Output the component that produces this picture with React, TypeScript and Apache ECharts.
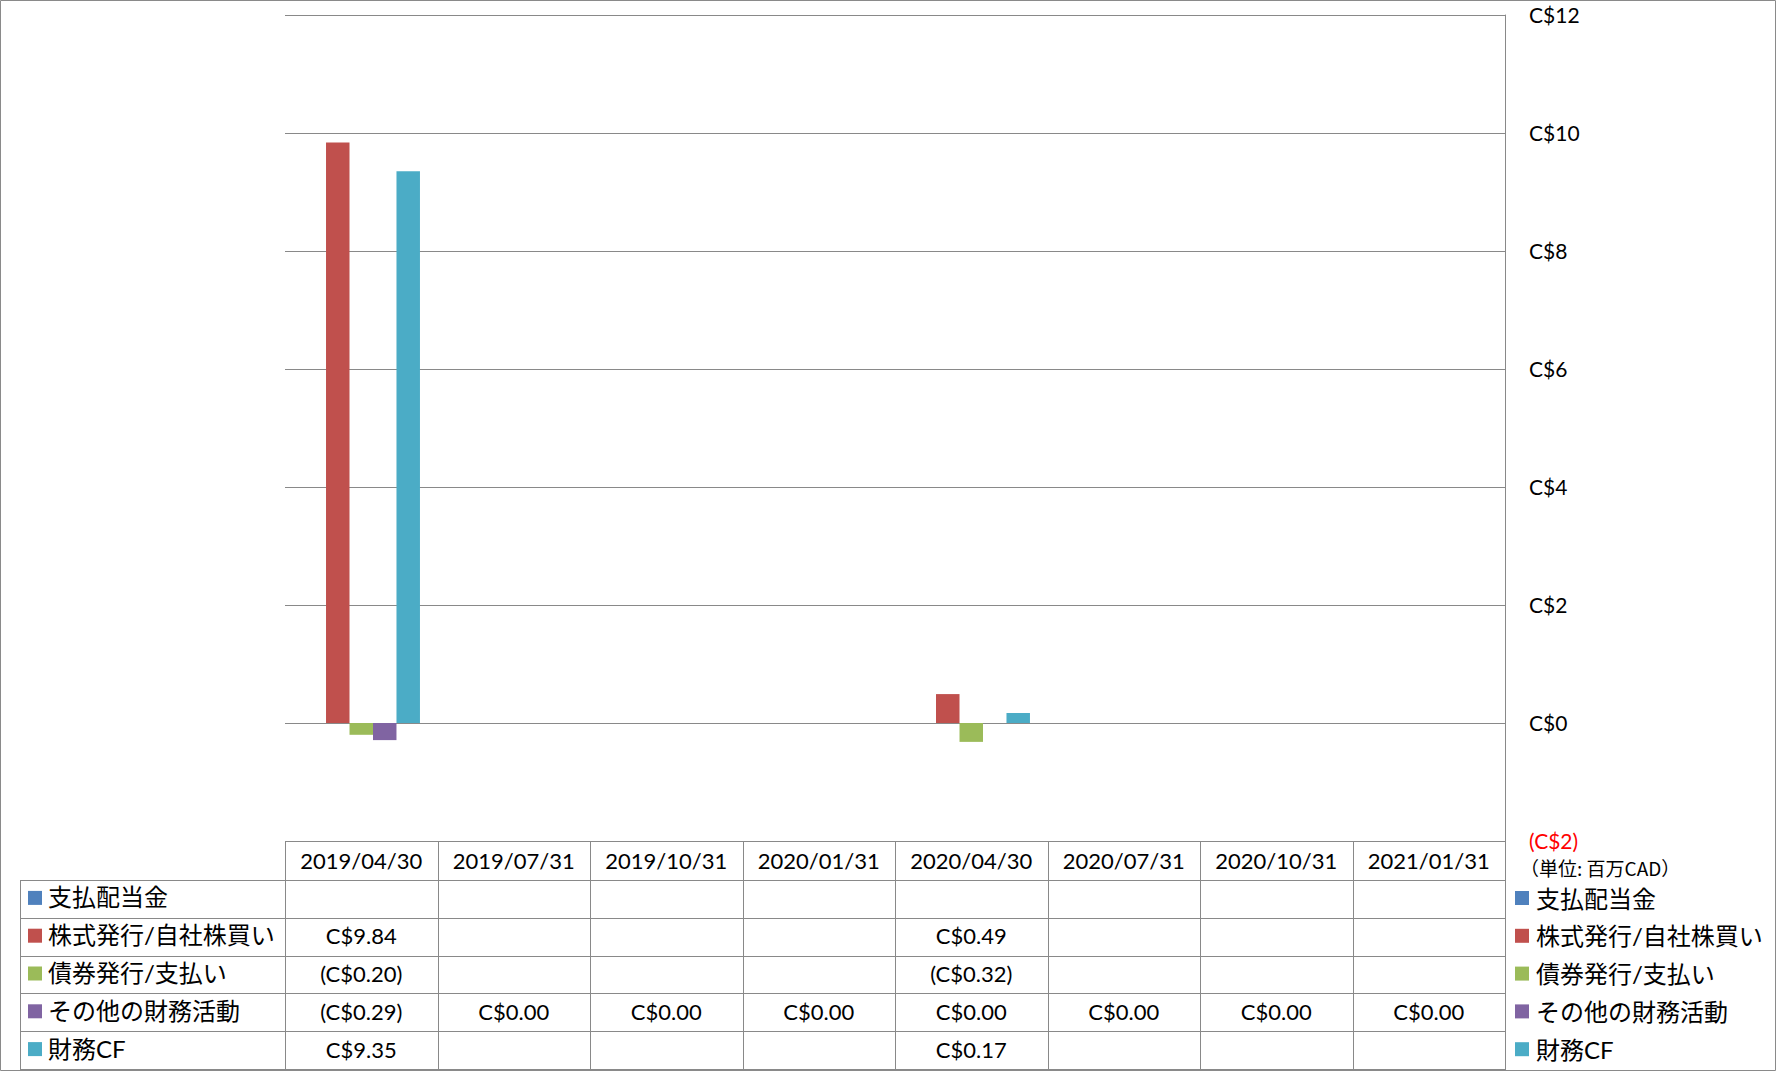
import React, { useEffect, useRef } from 'react';
import * as echarts from 'echarts';

const categories = ['2019/04/30', '2019/07/31', '2019/10/31', '2020/01/31', '2020/04/30', '2020/07/31', '2020/10/31', '2021/01/31'];
const seriesNames = ['支払配当金', '株式発行/自社株買い', '債券発行/支払い', 'その他の財務活動', '財務CF'];
const dividendsPaid: (number | null)[] = [null, null, null, null, null, null, null, null];
const equityIssuance: (number | null)[] = [9.84, null, null, null, 0.49, null, null, null];
const debtIssuance: (number | null)[] = [-0.2, null, null, null, -0.32, null, null, null];
const otherFinancing: (number | null)[] = [-0.29, 0, 0, 0, 0, 0, 0, 0];
const financingCF: (number | null)[] = [9.35, null, null, null, 0.17, null, null, null];
const seriesColors = ['#4F81BD', '#C0504D', '#9BBB59', '#8064A2', '#4BACC6'];
const yMin = -2;
const yMax = 12;
const yInterval = 2;
const unitLabel = '（単位: 百万CAD）';

const allSeries = [dividendsPaid, equityIssuance, debtIssuance, otherFinancing, financingCF];

const LATIN = 'Lato, "Noto Sans CJK JP", sans-serif';
const CJK = 'Lato, "Noto Sans CJK JP", sans-serif';

function fmt(v: number | null): string {
  if (v == null) return '';
  return v < 0 ? `(C$${(-v).toFixed(2)})` : `C$${v.toFixed(2)}`;
}

export default function App() {
  const ref = useRef<HTMLDivElement>(null);
  useEffect(() => {
    document.body.style.margin = '0';
    const chart = echarts.init(ref.current!, null, { renderer: 'svg' });

    const W = 1776;
    const H = 1071;
    const plotL = 285;
    const plotR = 1505;
    const plotT = 15;
    const plotB = 841;
    const colW = (plotR - plotL) / categories.length;
    const headerB = 880;
    const rowH = (1069 - headerB) / seriesNames.length;
    const tableL = 20;
    const tableB = headerB + rowH * seriesNames.length;
    const lineColor = '#898989';

    const g: any[] = [];
    g.push({ type: 'rect', shape: { x: 0.5, y: 0.5, width: W - 1, height: H - 1 }, style: { fill: 'none', stroke: '#8a8a8a', lineWidth: 1 }, z: 10 });
    const hline = (y: number, x1: number, x2: number) =>
      g.push({ type: 'line', shape: { x1, y1: Math.round(y) + 0.5, x2, y2: Math.round(y) + 0.5 }, style: { stroke: lineColor, lineWidth: 1 }, z: 10 });
    const vline = (x: number, y1: number, y2: number) =>
      g.push({ type: 'line', shape: { x1: Math.round(x) + 0.5, y1, x2: Math.round(x) + 0.5, y2 }, style: { stroke: lineColor, lineWidth: 1 }, z: 10 });

    hline(plotB, plotL, plotR + 1);
    for (let r = 0; r <= seriesNames.length; r++) hline(headerB + r * rowH, tableL, plotR + 1);
    vline(tableL, headerB, tableB);
    for (let c = 0; c <= categories.length; c++) vline(plotL + c * colW, plotB, tableB + 1);

    categories.forEach((cat, c) => {
      g.push({ type: 'text', x: plotL + (c + 0.5) * colW, y: (plotB + headerB) / 2, style: { text: cat, fontSize: 22, fontFamily: LATIN, fill: '#000', align: 'center', verticalAlign: 'middle' }, z: 11 });
    });
    seriesNames.forEach((name, r) => {
      const cy = headerB + (r + 0.5) * rowH;
      g.push({ type: 'rect', shape: { x: 28, y: cy - 8, width: 14, height: 14 }, style: { fill: seriesColors[r] }, z: 11 });
      g.push({ type: 'text', x: 48, y: cy - 2, style: { text: name, fontSize: 24, fontFamily: CJK, fill: '#000', align: 'left', verticalAlign: 'middle' }, z: 11 });
      allSeries[r].forEach((v, c) => {
        const t = fmt(v);
        if (t) g.push({ type: 'text', x: plotL + (c + 0.5) * colW, y: cy - 1, style: { text: t, fontSize: 22, fontFamily: LATIN, fill: '#000', align: 'center', verticalAlign: 'middle' }, z: 11 });
      });
    });
    g.push({ type: 'text', x: 1520, y: 867, style: { text: unitLabel, fontSize: 19, fontFamily: '"Noto Sans CJK JP", sans-serif', fill: '#000', align: 'left', verticalAlign: 'middle' }, z: 11 });

    chart.setOption({
      animation: false,
      backgroundColor: '#ffffff',
      color: seriesColors,
      grid: { left: plotL, right: W - plotR, top: plotT, bottom: H - plotB, containLabel: false },
      legend: {
        orient: 'vertical',
        left: 1515,
        top: 885,
        padding: 0,
        itemWidth: 14,
        itemHeight: 14,
        itemGap: rowH - 26,
        icon: 'rect',
        selectedMode: false,
        textStyle: { fontSize: 24, fontFamily: CJK, color: '#000', lineHeight: 26, padding: [0, 0, 0, 2] },
        data: seriesNames,
      },
      xAxis: {
        type: 'category',
        data: categories,
        axisLine: { show: false },
        axisTick: { show: false },
        axisLabel: { show: false },
        splitLine: { show: false },
      },
      yAxis: {
        type: 'value',
        position: 'right',
        min: yMin,
        max: yMax,
        interval: yInterval,
        axisLine: { show: true, lineStyle: { color: lineColor, width: 1 } },
        axisTick: { show: false },
        splitLine: { show: true, lineStyle: { color: lineColor, width: 1 } },
        axisLabel: {
          margin: 24,
          fontSize: 21,
          fontFamily: LATIN,
          color: '#000',
          padding: [0, 0, 2, 0],
          formatter: (v: number) => (v < 0 ? `{neg|(C$${-v})}` : `C$${v}`),
          rich: { neg: { color: '#FF0000', fontSize: 21, fontFamily: LATIN } },
        },
      },
      series: seriesNames.map((name, i) => ({
        name,
        type: 'bar',
        data: allSeries[i],
        barGap: '0%',
        barCategoryGap: '23%',
        itemStyle: { color: seriesColors[i] },
      })),
      graphic: g,
    });
    return () => chart.dispose();
  }, []);
  return <div ref={ref} style={{ position: 'absolute', left: 0, top: 0, width: 1776, height: 1071, background: '#fff' }} />;
}
